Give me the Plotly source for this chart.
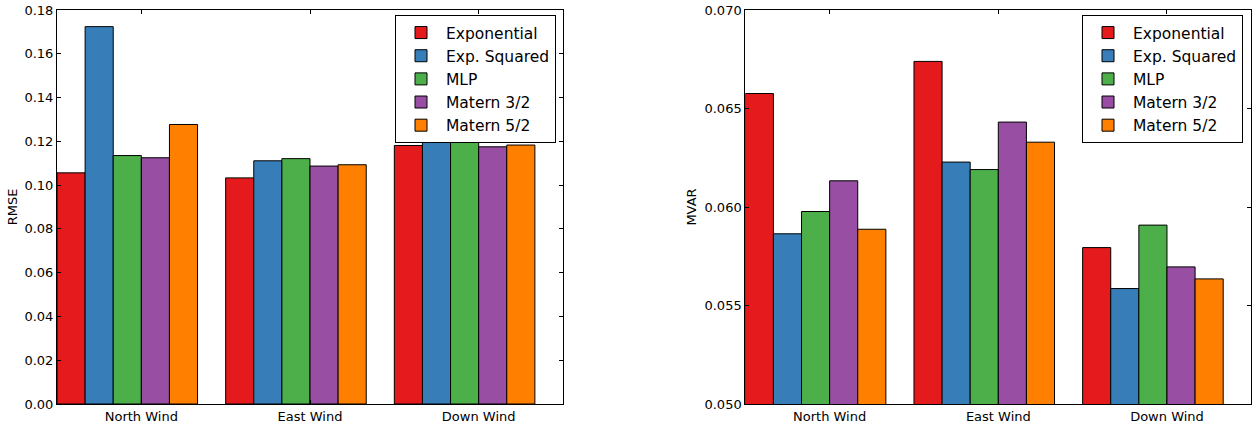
import numpy as np
import plotly.graph_objects as go

categories = ["North Wind", "East Wind", "Down Wind"]
kernels = ["Exponential", "Exp. Squared", "MLP", "Matern 3/2", "Matern 5/2"]
colors = ["#e41a1c", "#377eb8", "#4daf4a", "#984ea3", "#ff7f00"]

rmse_exponential = [0.1056, 0.1033, 0.1181]
rmse_exp_squared = [0.1724, 0.1111, 0.1240]
rmse_mlp = [0.1135, 0.1121, 0.1260]
rmse_matern32 = [0.1125, 0.1087, 0.1175]
rmse_matern52 = [0.1277, 0.1093, 0.1183]

mvar_exponential = [0.06576, 0.06739, 0.05794]
mvar_exp_squared = [0.05864, 0.06228, 0.05586]
mvar_mlp = [0.05977, 0.06190, 0.05908]
mvar_matern32 = [0.06133, 0.06431, 0.05696]
mvar_matern52 = [0.05887, 0.06329, 0.05635]

rmse = [rmse_exponential, rmse_exp_squared, rmse_mlp, rmse_matern32, rmse_matern52]
mvar = [mvar_exponential, mvar_exp_squared, mvar_mlp, mvar_matern32, mvar_matern52]

W, H = 1254, 425
FONT = "DejaVu Sans"
bw = 1 / 6
xpos = np.arange(len(categories))

fig = go.Figure()
for j, (name, col) in enumerate(zip(kernels, colors)):
    fig.add_trace(go.Bar(
        x=xpos, y=rmse[j], name=name, width=bw, offset=j * bw,
        marker=dict(color=col, line=dict(color="black", width=1)),
        xaxis="x", yaxis="y", legend="legend",
    ))
for j, (name, col) in enumerate(zip(kernels, colors)):
    fig.add_trace(go.Bar(
        x=xpos, y=mvar[j], name=name, width=bw, offset=j * bw,
        marker=dict(color=col, line=dict(color="black", width=1)),
        xaxis="x2", yaxis="y2", legend="legend2",
    ))

axis_common = dict(
    showline=True, linecolor="black", linewidth=1, mirror="ticks",
    ticks="inside", ticklen=4, tickcolor="black", showgrid=False, zeroline=False,
    tickfont=dict(family=FONT, size=13, color="black"),
)

x1 = (57 / W, 563 / W)
x2 = (745.3 / W, 1251.3 / W)
legend_style = dict(xanchor="right", yanchor="top",
                    bgcolor="white", bordercolor="black", borderwidth=1,
                    font=dict(family=FONT, size=15.5, color="black"), itemwidth=40)

fig.update_layout(
    width=W, height=H,
    margin=dict(l=0, r=0, t=10, b=21),
    paper_bgcolor="white", plot_bgcolor="white",
    barmode="overlay",
    font=dict(family=FONT, color="black"),
    xaxis=dict(domain=x1, range=[0, 3], tickvals=xpos + 0.5, ticktext=categories,
               anchor="y", **axis_common),
    yaxis=dict(domain=[0, 1], range=[0, 0.18], dtick=0.02, tickformat=".2f",
               anchor="x", title=dict(text="RMSE", font=dict(family=FONT, size=13), standoff=3),
               **axis_common),
    xaxis2=dict(domain=x2, range=[0, 3], tickvals=xpos + 0.5, ticktext=categories,
                anchor="y2", **axis_common),
    yaxis2=dict(domain=[0, 1], range=[0.05, 0.07], dtick=0.005, tickformat=".3f",
                anchor="x2", title=dict(text="MVAR", font=dict(family=FONT, size=13), standoff=4),
                **axis_common),
    legend=dict(x=556 / W, y=(404 - 15) / 394, **legend_style),
    legend2=dict(x=1243 / W, y=(404 - 15) / 394, **legend_style),
)

fig.write_html("out.html")
